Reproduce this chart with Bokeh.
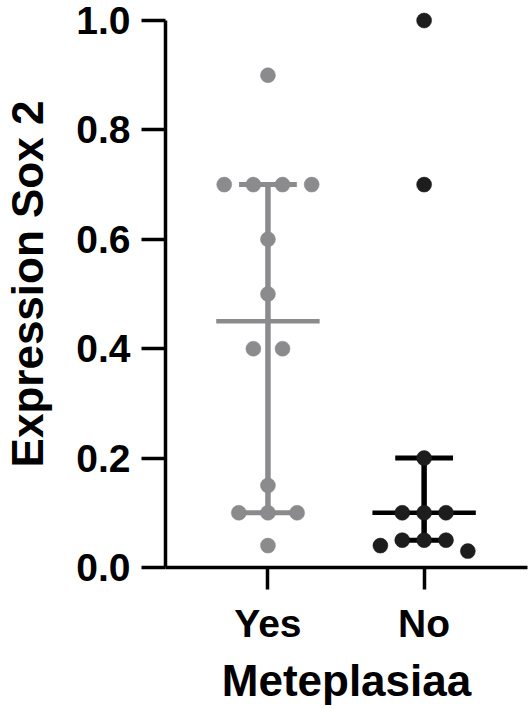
import numpy as np
from bokeh.plotting import figure
from bokeh.models import FixedTicker, Range1d, PrintfTickFormatter, ColumnDataSource
from bokeh.embed import file_html
from bokeh.resources import INLINE

# ---- data ----
groups = ["Yes", "No"]
group_pos = [1, 2]
yes_values = [0.9, 0.7, 0.7, 0.7, 0.7, 0.6, 0.5, 0.4, 0.4, 0.15, 0.1, 0.1, 0.1, 0.04]
no_values = [1.0, 0.7, 0.2, 0.1, 0.1, 0.1, 0.05, 0.05, 0.05, 0.04, 0.03]
y_ticks = [0.0, 0.2, 0.4, 0.6, 0.8, 1.0]
x_title = "Meteplasiaa"
y_title = "Expression Sox 2"

dot_colors = ["#8b8b8e", "#1d1d1d"]
line_colors = ["#8b8b8e", "#000000"]
FONT = "Liberation Sans"


def swarm_offsets(vals, spread, tol=0.025):
    """Simple binned dot-plot layout: equal-ish values share a row, spread centre-out."""
    vals = np.asarray(vals, dtype=float)
    order = np.argsort(-vals, kind="stable")
    bins = []
    for i in order:
        if bins and vals[bins[-1][0]] - vals[i] <= tol:
            bins[-1].append(i)
        else:
            bins.append([i])
    maxn = max(len(b) for b in bins)
    step = spread / (maxn - 1) if maxn > 1 else 0
    offs = np.zeros(len(vals))
    for b in bins:
        n = len(b)
        slots = sorted(np.arange(n) - (n - 1) / 2, key=lambda s: (abs(s), s))
        for i, s in zip(b, slots):
            offs[i] = s * step
    return offs


p = figure(width=531, height=709,
           x_range=Range1d(0.344, 2.662), y_range=Range1d(0, 1.0366),
           output_backend="svg", toolbar_location=None, title=None,
           min_border_left=163, min_border_right=4, min_border_top=0,
           min_border_bottom=142)
p.outline_line_color = None
p.xgrid.visible = False
p.ygrid.visible = False
p.background_fill_color = "white"

spread = 0.56
median_half = 0.331
cap_half = 0.185

for vals, xc, dc, lc in zip([yes_values, no_values], group_pos, dot_colors, line_colors):
    q1, med, q3 = np.percentile(vals, [25, 50, 75], method="weibull")
    # IQR bar
    p.segment(x0=[xc], y0=[q1], x1=[xc], y1=[q3], line_color=lc, line_width=5.5)
    p.segment(x0=[xc - cap_half, xc - cap_half], y0=[q1, q3],
              x1=[xc + cap_half, xc + cap_half], y1=[q1, q3],
              line_color=lc, line_width=5)
    # median
    p.segment(x0=[xc - median_half], y0=[med], x1=[xc + median_half], y1=[med],
              line_color=lc, line_width=4.5)
    offs = swarm_offsets(vals, spread)
    src = ColumnDataSource(dict(x=xc + offs, y=vals))
    p.scatter("x", "y", source=src, size=15, fill_color=dc, line_color=dc, line_width=0.5)

# axes
p.xaxis.ticker = FixedTicker(ticks=group_pos)
p.xaxis.major_label_overrides = {gp: g for gp, g in zip(group_pos, groups)}
p.yaxis.ticker = FixedTicker(ticks=y_ticks)
p.yaxis.formatter = PrintfTickFormatter(format="%.1f")
p.yaxis.bounds = (0, 1)

for ax in (p.xaxis, p.yaxis):
    ax.axis_line_width = 3.5
    ax.axis_line_color = "black"
    ax.major_tick_line_width = 3.5
    ax.major_tick_line_color = "black"
    ax.major_tick_in = 0
    ax.minor_tick_line_color = None
    ax.major_label_text_font = FONT
    ax.major_label_text_font_style = "bold"
    ax.major_label_text_font_size = "39px"
    ax.major_label_text_color = "black"
    ax.axis_label_text_font = FONT
    ax.axis_label_text_font_style = "bold"
    ax.axis_label_text_font_size = "44px"
    ax.axis_label_text_color = "black"

p.yaxis.major_tick_out = 24
p.yaxis.major_label_standoff = 11
p.xaxis.major_tick_out = 22
p.xaxis.major_label_standoff = 12
p.xaxis.axis_label = x_title
p.yaxis.axis_label = y_title
p.xaxis.axis_label_standoff = 8
p.yaxis.axis_label_standoff = 21

open("out.html", "w").write(file_html(p, INLINE))
